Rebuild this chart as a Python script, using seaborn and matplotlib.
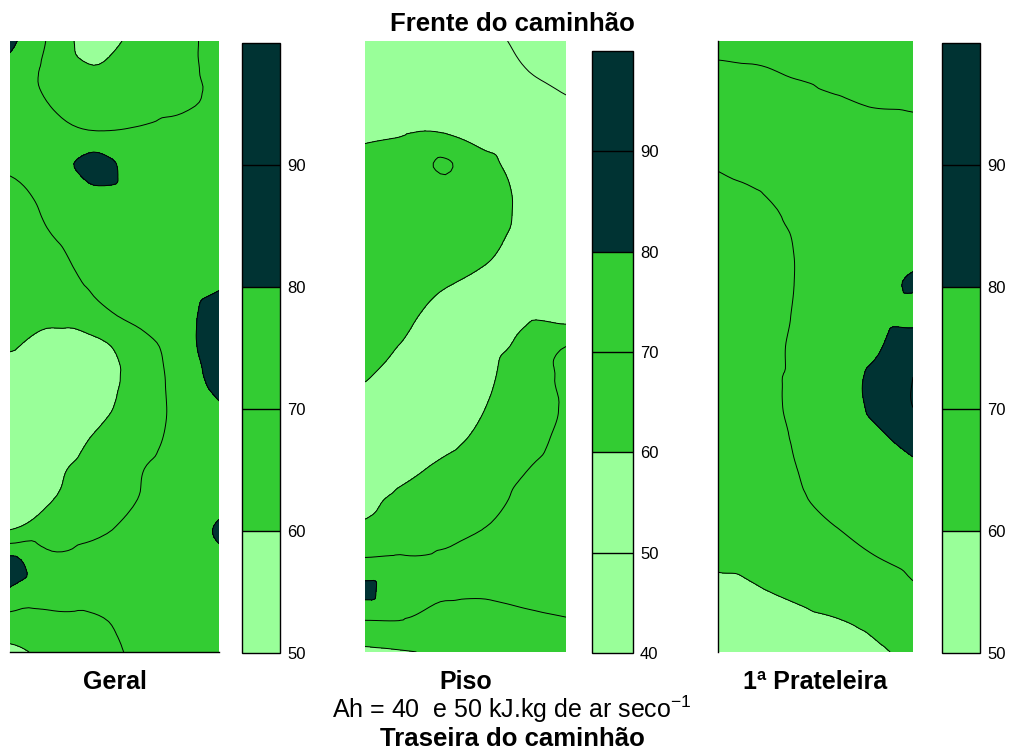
import numpy as np
import matplotlib
matplotlib.use("Agg")
import matplotlib.pyplot as plt
import matplotlib.tri as mtri
from matplotlib.colors import ListedColormap, BoundaryNorm
import seaborn as sns

sns.set_theme(style="white", rc={"text.color": "black", "xtick.color": "black",
                                 "ytick.color": "black"})
plt.rcParams["font.family"] = ["Liberation Sans", "DejaVu Sans"]

# Temperature-like field values on a 21 x 6 grid (rows top -> bottom, columns left -> right)
geral = [
    [82, 68, 56, 62, 67, 73],
    [77, 67, 61, 65, 67, 73],
    [75, 69.5, 66, 66, 68, 72],
    [76, 72, 70.5, 71, 73, 75],
    [72, 75, 84, 76, 75, 76],
    [67, 73, 78, 76, 75, 76],
    [64, 71, 75, 75, 75, 76],
    [62, 68, 73, 75, 75, 77],
    [61, 66, 71, 74, 75, 79],
    [61, 62, 67, 72, 75, 86],
    [60.5, 57, 57, 65, 74, 88],
    [57, 55, 56, 63, 73, 84],
    [56, 55, 57, 64, 72, 79],
    [56, 56, 60.5, 66, 72, 76],
    [56, 58.5, 63, 69, 73, 76],
    [57, 59.8, 66, 69.8, 73, 77],
    [60, 64, 68, 72, 75, 81],
    [82, 72, 74, 74, 75, 78],
    [79, 73, 73, 74, 75, 76],
    [66, 68, 69, 72, 74, 75],
    [58, 63, 67, 71, 74, 75],
]

piso = [
    [56, 55, 54, 52, 48, 44],
    [57, 56, 55, 54, 50.3, 46],
    [58, 57.5, 57, 56, 54, 51],
    [59, 59.7, 59.8, 57, 55, 53],
    [62, 64, 71, 62, 56, 54],
    [63, 65, 66, 64, 58, 55],
    [64, 66, 66, 64, 58, 56],
    [64, 65, 65, 61, 57, 56],
    [63.5, 63, 60.3, 58, 56, 56],
    [63, 61, 58, 56, 59, 57],
    [62, 59.5, 56, 58, 62, 70],
    [60.5, 57, 55, 58.5, 65, 72],
    [57, 55, 56, 60, 66, 71],
    [56, 56, 58, 62, 67, 72],
    [56, 58.5, 61.5, 65, 69.7, 73],
    [58.5, 61.5, 64, 67, 72, 74],
    [61.5, 63, 66, 70.3, 73, 75],
    [71, 71, 72, 74, 75, 76],
    [82, 71, 71, 71, 72, 73],
    [69.5, 69.5, 67, 67, 68.5, 69.5],
    [58, 59.5, 61, 63, 65, 66],
]

prateleira = [
    [66, 66, 66, 65, 65, 65],
    [72, 71, 69, 67, 66, 66],
    [74, 74, 73, 71, 69.3, 69],
    [73, 74, 74, 74, 73, 72],
    [71, 74, 75, 75, 75, 75],
    [67, 69.5, 74, 75, 76, 76],
    [66, 68, 71, 75, 76, 77],
    [65, 67, 70.2, 75, 77, 78],
    [64, 66.5, 70.2, 75, 77, 81],
    [63, 67, 70.5, 74, 76, 76],
    [63, 67, 71, 74, 78, 88],
    [62, 68, 71, 75, 82, 90],
    [62, 68, 71, 75, 81.5, 90],
    [62, 68, 70.5, 75, 78, 84],
    [61, 67, 69.9, 73, 75, 78],
    [62, 65.5, 69, 72, 74, 76],
    [61, 64, 67, 69.7, 72, 74],
    [61, 62, 65, 67, 69.5, 71.5],
    [58, 59.5, 61.5, 64, 66, 69],
    [56, 57, 58, 59.5, 61.5, 64],
    [55, 55, 56, 57, 59, 61.5],
]

levels_geral = [50, 60, 70, 80, 90, 100]
levels_piso = [40, 50, 60, 70, 80, 90, 100]
levels_prat = [50, 60, 70, 80, 90, 100]
ticks_geral = [50, 60, 70, 80, 90]
ticks_piso = [40, 50, 60, 70, 80, 90]
ticks_prat = [50, 60, 70, 80, 90]

panel_names = ["Geral", "Piso", "1ª Prateleira"]
title_top = "Frente do caminhão"
title_bottom = "Traseira do caminhão"
subtitle = r"Ah = 40  e 50 kJ.kg de ar seco$^{\mathregular{-1}}$"

light, mid, dark = "#99ff99", "#33cc33", "#003333"


def band_colors(levels):
    cols = []
    for lo in levels[:-1]:
        if lo < 60:
            cols.append(light)
        elif lo < 80:
            cols.append(mid)
        else:
            cols.append(dark)
    return cols


fig = plt.figure(figsize=(10.13, 7.54), dpi=100)
W, H = 1013, 754


def px_axes(x0, y0, x1, y1):
    return fig.add_axes([x0 / W, 1 - y1 / H, (x1 - x0) / W, (y1 - y0) / H])


panels = [
    (geral, levels_geral, ticks_geral, (10, 41, 219, 652), (242, 43, 280, 653), ["bottom"]),
    (piso, levels_piso, ticks_piso, (365, 41, 566, 652), (592, 51, 633, 653), []),
    (prateleira, levels_prat, ticks_prat, (718, 41, 913, 652), (942, 43, 980, 653), ["left"]),
]

for (grid, levels, ticks, box, cbox, edges), name in zip(panels, panel_names):
    z = np.array(grid, dtype=float)
    ny, nx = z.shape
    # grid in panel pixel proportions so the smooth triangulated surface keeps its aspect
    xs = np.linspace(0, box[2] - box[0], nx)
    ys = np.linspace(0, box[3] - box[1], ny)
    gx, gy = np.meshgrid(xs, ys)
    tri = mtri.Triangulation(gx.ravel(), gy.ravel())
    refiner = mtri.UniformTriRefiner(tri)
    interp = mtri.CubicTriInterpolator(tri, z.ravel(), kind="geom")
    tri_f, z_f = refiner.refine_field(z.ravel(), triinterpolator=interp, subdiv=3)

    ax = px_axes(*box)
    cmap = ListedColormap(band_colors(levels))
    norm = BoundaryNorm(levels, cmap.N)
    cf = ax.tricontourf(tri_f, z_f, levels=levels, cmap=cmap, norm=norm)
    cl = ax.tricontour(tri_f, z_f, levels=levels[1:-1], colors="black", linewidths=0.7)
    ax.set_xlim(xs[0], xs[-1])
    ax.set_ylim(ys[-1], ys[0])
    ax.set_xticks([])
    ax.set_yticks([])
    for side, s in ax.spines.items():
        if side in edges:
            s.set_visible(True)
            s.set_color("black")
            s.set_linewidth(1.0)
        else:
            s.set_visible(False)

    cax = px_axes(*cbox)
    cb = fig.colorbar(cf, cax=cax, ticks=ticks)
    cb.add_lines(cl)
    cb.lines[-1].set_linewidths(1.0)
    cb.lines[-1].set_colors("black")
    cb.outline.set_linewidth(1.0)
    cb.outline.set_edgecolor("black")
    cax.minorticks_off()
    cax.tick_params(which="both", length=0, pad=5, labelsize=12, colors="black")
    cx = (box[0] + box[2]) / 2
    fig.text(cx / W, 1 - 689 / H, name, ha="center", va="baseline",
             fontsize=18, fontweight="bold")

fig.text(512 / W, 1 - 31 / H, title_top, ha="center", va="baseline",
         fontsize=18.5, fontweight="bold")
fig.text(512 / W, 1 - 718 / H, subtitle, ha="center", va="baseline", fontsize=18)
fig.text(512 / W, 1 - 746 / H, title_bottom, ha="center", va="baseline",
         fontsize=18.5, fontweight="bold")

fig.savefig("out.png", dpi=100)
